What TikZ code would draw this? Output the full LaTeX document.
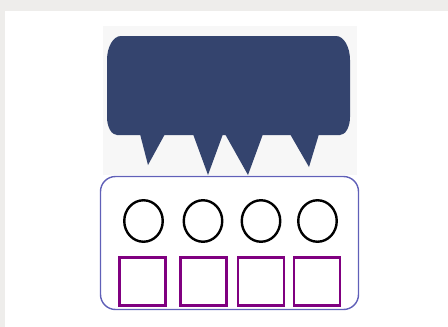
\documentclass[tikz,border=0pt]{standalone}
\usepackage{xcolor}
\usepackage{tikz}
\usetikzlibrary{shapes.geometric,positioning}
\definecolor{slate}{RGB}{52,68,110}
\definecolor{greybg}{RGB}{238,237,235}
\definecolor{panelbg}{RGB}{247,247,247}
\definecolor{trayline}{RGB}{96,96,184}
\definecolor{plum}{RGB}{128,0,128}

\begin{document}
\begin{tikzpicture}[x=1pt, y=-1pt, every node/.style={inner sep=0pt, outer sep=0pt}]
	\useasboundingbox (0,0) rectangle (448,327);
	\fill[greybg] (0,0) rectangle (448,327);
	\fill[white] (5,11) rectangle (448,327);
	\fill[panelbg] (103,26) rectangle (357,175);
	% speech bubble
	\fill[slate] (107,60) arc[start angle=180, end angle=270, x radius=14, y radius=24]
		-- (336,36) arc[start angle=270, end angle=360, x radius=14, y radius=24]
		-- (350,117) arc[start angle=0, end angle=90, x radius=10, y radius=18]
		-- (117,135) arc[start angle=90, end angle=180, x radius=10, y radius=18] -- cycle;
	\coordinate (bubble) at (228.5,85.5);
	\fill[slate] (140,134) -- (148,165) -- (165,134) -- cycle;
	\fill[slate] (193,134) -- (208,175) -- (223,134) -- cycle;
	\fill[slate] (225,134) -- (248,175) -- (263,134) -- cycle;
	\fill[slate] (290,134) -- (309,167) -- (319,134) -- cycle;
	% tray with circles and squares
	\node[draw=trayline, line width=1.4pt, rounded corners=15pt, minimum width=258pt, minimum height=133pt] (tray) at (229.5,243) {};
	\foreach \i/\cx/\sx in {1/143.5/142.5, 2/203/203.5, 3/261/261, 4/317.5/317}{
		\node[draw, ellipse, line width=2.4pt, minimum width=38.5pt, minimum height=41.5pt] (c\i) at (\cx,221) {};
		\node[draw=plum, line width=2.8pt, minimum width=46pt, minimum height=48pt] (s\i) at (\sx,281.5) {};
	}
\end{tikzpicture}
\end{document}
